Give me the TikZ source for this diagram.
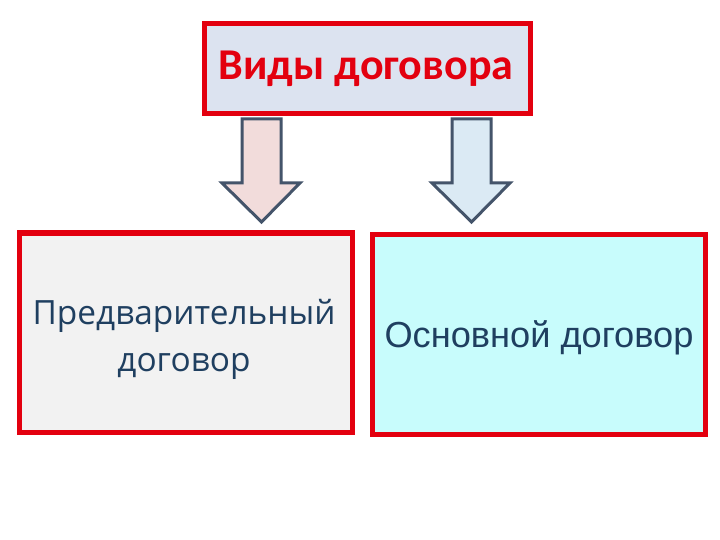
\documentclass[tikz,border=0pt]{standalone}
\usepackage{fontspec}
\newfontfamily\titlefont{Carlito}
\newfontfamily\leftfont{Open Sans}
\newfontfamily\rightfont{Liberation Sans}
\definecolor{boxred}{HTML}{E3000F}
\definecolor{titlefill}{HTML}{DCE3F0}
\definecolor{leftfill}{HTML}{F2F2F2}
\definecolor{rightfill}{HTML}{C8FCFC}
\definecolor{txtblue}{HTML}{1F3F60}
\definecolor{arrowline}{HTML}{44546A}
\definecolor{arrowpink}{HTML}{F2DCDB}
\definecolor{arrowblue}{HTML}{DBEAF4}
\tikzset{
  redbox/.style={draw=boxred, line width=5pt, inner sep=0pt, outer sep=0pt, anchor=north west},
  blockarrow/.style={draw=arrowline, line width=3pt, line join=miter},
}
\begin{document}
\begin{tikzpicture}[x=1pt,y=-1pt]
\useasboundingbox (0,0) rectangle (720,540);
\fill[white] (0,0) rectangle (720,540);
% title
\node[redbox, fill=titlefill, minimum width=326pt, minimum height=90pt] (title) at (204,24) {};
\node[text=boxred, anchor=base, inner sep=0pt, font=\titlefont\bfseries\fontsize{44}{52}\selectfont] (titletext) at (366,80) {Виды договора};
% left box
\node[redbox, fill=leftfill, minimum width=332.5pt, minimum height=199pt] (left) at (19.5,233) {};
\node[text=txtblue, align=center, font=\leftfont\fontsize{33.4}{47}\selectfont] (lefttext) at (184,339) {Предварительный\\договор};
% right box
\node[redbox, fill=rightfill, minimum width=333pt, minimum height=200pt] (right) at (372.5,234.5) {};
\node[text=txtblue, anchor=base, inner sep=0pt, font=\rightfont\fontsize{36.2}{43}\selectfont] (righttext) at (539,347) {Основной договор};
% arrows
\draw[blockarrow, fill=arrowpink] (242,119) -- (281,119) -- (281,183) -- (300,183) -- (261.5,222) -- (222,183) -- (242,183) -- cycle;
\draw[blockarrow, fill=arrowblue] (452,119) -- (491,119) -- (491,183) -- (510,183) -- (471.5,222) -- (432,183) -- (452,183) -- cycle;
\end{tikzpicture}
\end{document}
